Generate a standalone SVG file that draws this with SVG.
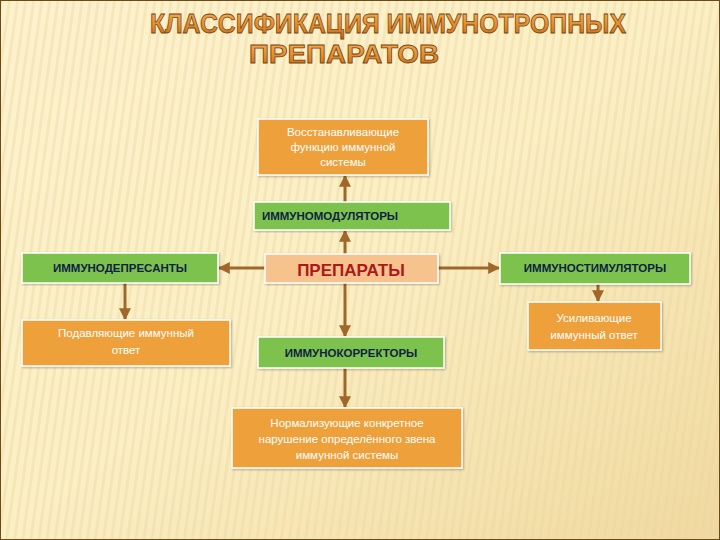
<svg xmlns="http://www.w3.org/2000/svg" width="720" height="540" viewBox="0 0 720 540">
<defs>
<linearGradient id="bg" x1="0" y1="0" x2="1" y2="1"><stop offset="0" stop-color="#FCF2CE"/><stop offset="0.5" stop-color="#FBEFC4"/><stop offset="1" stop-color="#F0D9A0"/></linearGradient>
<pattern id="str" width="8" height="8" patternUnits="userSpaceOnUse" patternTransform="rotate(8)"><rect width="3" height="8" fill="#E9D39A" opacity="0.35"/></pattern>
<linearGradient id="tg" x1="0" y1="0" x2="0" y2="1"><stop offset="0" stop-color="#F7B45A"/><stop offset="0.6" stop-color="#E08A2A"/><stop offset="1" stop-color="#B8661A"/></linearGradient>
<marker id="ah" viewBox="0 0 10 10" refX="9" refY="5" markerWidth="4" markerHeight="4" orient="auto"><path d="M0,0L10,5L0,10z" fill="#A0672A"/></marker>
<filter id="sh"><feDropShadow dx="1" dy="1" stdDeviation="1" flood-opacity="0.3"/></filter>
</defs>
<style>
.o{fill:#EEA03A;stroke:#fff;stroke-width:1.5;filter:url(#sh)}
.g{fill:#7DC24E;stroke:#fff;stroke-width:1.5;filter:url(#sh)}
.p{fill:#F6C38E;stroke:#fff;stroke-width:1.5;filter:url(#sh)}
.wt{font-family:"Liberation Sans",Arial,sans-serif;font-size:11.5px;fill:#fff;text-anchor:middle}
.gt{font-family:"Liberation Sans",Arial,sans-serif;font-size:11.5px;fill:#0F1F45;text-anchor:middle;font-weight:bold}
.c{stroke:#A0672A;stroke-width:3;fill:none;marker-end:url(#ah)}
</style>
<rect width="720" height="540" fill="url(#bg)"/>
<rect width="720" height="540" fill="url(#str)"/>
<rect x="0.5" y="0.5" width="719" height="539" fill="none" stroke="#6B4A1A" stroke-width="1"/>
<g id="title" font-family="'Liberation Sans',Arial,sans-serif" font-weight="bold" font-size="28" fill="url(#tg)" stroke="#7A4210" stroke-width="0.8" text-anchor="middle">
<text x="388" y="33" textLength="476" lengthAdjust="spacingAndGlyphs">КЛАССИФИКАЦИЯ  ИММУНОТРОПНЫХ</text>
<text x="344" y="63" font-size="26" textLength="190" lengthAdjust="spacingAndGlyphs">ПРЕПАРАТОВ</text>
</g>
<g id="connectors">
<line class="c" x1="345" y1="254" x2="345" y2="231"/>
<line class="c" x1="345" y1="202" x2="345" y2="176"/>
<line class="c" x1="265" y1="268" x2="219" y2="268"/>
<line class="c" x1="438" y1="268" x2="499" y2="268"/>
<line class="c" x1="345" y1="283" x2="345" y2="336"/>
<line class="c" x1="345" y1="368" x2="345" y2="407"/>
<line class="c" x1="125" y1="283" x2="125" y2="319"/>
<line class="c" x1="598" y1="284" x2="598" y2="301"/>
</g>
<g id="n_restore"><rect class="o" x="258" y="119" width="170" height="56"/>
<text class="wt" x="343" y="136">Восстанавливающие</text><text class="wt" x="343" y="151">функцию  иммунной</text><text class="wt" x="343" y="166">системы</text></g>
<g id="n_modul"><rect class="g" x="254" y="202" width="196" height="28"/>
<text class="gt" x="330" y="220">ИММУНОМОДУЛЯТОРЫ</text></g>
<g id="n_prep"><rect class="p" x="265" y="254" width="173" height="29"/>
<text x="351" y="276" font-family="'Liberation Sans',Arial,sans-serif" font-size="17" font-weight="bold" fill="#B01818" text-anchor="middle">ПРЕПАРАТЫ</text></g>
<g id="n_depr"><rect class="g" x="22" y="253" width="196" height="30"/>
<text class="gt" x="120" y="272">ИММУНОДЕПРЕСАНТЫ</text></g>
<g id="n_suppr"><rect class="o" x="22" y="320" width="208" height="46"/>
<text class="wt" x="126" y="337">Подавляющие  иммунный</text><text class="wt" x="126" y="354">ответ</text></g>
<g id="n_corr"><rect class="g" x="258" y="337" width="186" height="31"/>
<text class="gt" x="351" y="357">ИММУНОКОРРЕКТОРЫ</text></g>
<g id="n_norm"><rect class="o" x="232" y="408" width="230" height="60"/>
<text class="wt" x="347" y="427">Нормализующие  конкретное</text><text class="wt" x="347" y="443">нарушение  определённого  звена</text><text class="wt" x="347" y="459">иммунной  системы</text></g>
<g id="n_stim"><rect class="g" x="500" y="253" width="190" height="31"/>
<text class="gt" x="595" y="272">ИММУНОСТИМУЛЯТОРЫ</text></g>
<g id="n_enh"><rect class="o" x="528" y="302" width="133" height="48"/>
<text class="wt" x="594" y="322">Усиливающие</text><text class="wt" x="594" y="339">иммунный  ответ</text></g>
</svg>
